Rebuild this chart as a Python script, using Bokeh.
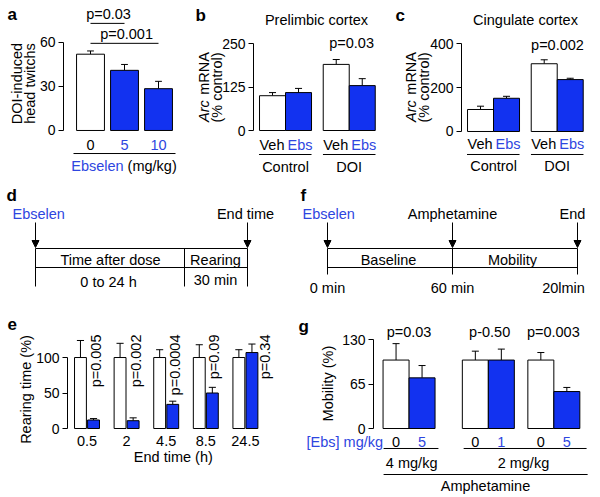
import math
from bokeh.plotting import figure
from bokeh.models import LinearAxis, Range1d, Arrow, NormalHead, FixedTicker, ColumnDataSource
from bokeh.layouts import column, row
from bokeh.core.properties import value
from bokeh.embed import file_html
from bokeh.resources import INLINE

FONT = "Liberation Sans"
FS = "14.5px"
BLUE = "#1232F0"
TBLUE = "#2E46E0"

# ---------------- data ----------------
# panel a: DOI-induced head twitches vs ebselen dose
a_doses = ["0", "5", "10"]
a_mean = [52, 41, 28.5]
a_err = [2.2, 4, 5]

# panels b / c: Arc mRNA (% control)
bc_treat = ["Veh", "Ebs", "Veh", "Ebs"]
bc_groups = ["Control", "DOI"]
b_mean = [100, 109, 190, 129]
b_err = [9, 12, 14, 20]
c_mean = [100, 151, 308, 236]
c_err = [15, 9, 18, 6]

# panel e: rearing time (%) vs end time
e_times = ["0.5", "2", "4.5", "8.5", "24.5"]
e_veh = [100, 100, 100, 100, 100]
e_veh_err = [24, 20, 11, 18, 11]
e_ebs = [12, 11, 34, 50, 107]
e_ebs_err = [2, 4, 4.5, 8, 12]
e_p = ["p=0.005", "p=0.002", "p=0.0004", "p=0.09", "p=0.34"]

# panel g: mobility (%)
g_dose = ["0", "5", "0", "1", "0", "5"]
g_mean = [100, 74, 100, 100, 100, 54]
g_err = [24, 18, 13, 16, 11, 6]
g_amph = ["4 mg/kg", "2 mg/kg"]
g_p = ["p=0.03", "p-0.50", "p=0.003"]


def make_fig(w, h, xr, yr):
    p = figure(width=w, height=h, x_range=Range1d(*xr), y_range=Range1d(*yr),
               x_axis_location=None, y_axis_location=None, toolbar_location=None,
               output_backend="svg", min_border_left=0, min_border_right=0,
               min_border_top=0, min_border_bottom=0, outline_line_color=None,
               background_fill_color="white", border_fill_color="white")
    p.grid.visible = False
    return p


def add_yaxis(p, loc, ticks, bounds):
    ax = LinearAxis(fixed_location=loc, ticker=FixedTicker(ticks=ticks), bounds=bounds,
                    major_tick_out=5, major_tick_in=0, minor_tick_out=0, minor_tick_in=0,
                    major_label_text_font=FONT, major_label_text_font_size="14px",
                    major_label_text_color="black", axis_line_color="black",
                    major_tick_line_color="black", major_label_standoff=3)
    p.add_layout(ax, "left")


def bars(p, x, top, err, colors, width, cap):
    src = ColumnDataSource(dict(x=x, top=top,
                                et=[t + e for t, e in zip(top, err)],
                                cl=[v - cap / 2 for v in x], cr=[v + cap / 2 for v in x],
                                color=colors))
    p.segment(x0="x", y0="top", x1="x", y1="et", source=src, line_color="black", line_width=1)
    p.segment(x0="cl", y0="et", x1="cr", y1="et", source=src, line_color="black", line_width=1)
    p.vbar(x="x", top="top", bottom=0, width=width, fill_color="color",
           line_color="black", line_width=1, source=src)


def txt(p, x, y, s, color="black", align="center", baseline="middle", size=FS,
        style="normal", angle=0.0):
    p.text(x=[x], y=[y], text=[s], text_color=color, text_align=align,
           text_baseline=baseline, text_font=value(FONT), text_font_size=value(size),
           text_font_style=value(style), angle=angle)


def letter(p, x, y, s):
    txt(p, x, y, s, align="left", size="17px", style="bold")


def hline(p, x0, x1, y, color="black"):
    p.segment(x0=[x0], y0=[y], x1=[x1], y1=[y], line_color=color, line_width=1)


def vline(p, x, y0, y1):
    p.segment(x0=[x], y0=[y0], x1=[x], y1=[y1], line_color="black", line_width=1)


R90 = math.pi / 2

# ---------------- panel a ----------------
pa = make_fig(190, 185, (-2.647, 2.941), (-37.5, 88.6))
add_yaxis(pa, -0.794, [0, 30, 60], (0, 60))
ax_ = list(range(len(a_doses)))
bars(pa, ax_, a_mean, a_err, ["white", BLUE, BLUE], 0.82, 0.2)
letter(pa, -2.44, 79.1, "a")
txt(pa, 0.53, 79.4, "p=0.03")
hline(pa, 0, 1, 73)
txt(pa, 1.06, 65.8, "p=0.001")
hline(pa, 0, 2, 59.4)
for i, d in enumerate(a_doses):
    txt(pa, i, -10.2, d, color="black" if i == 0 else TBLUE)
hline(pa, -0.5, 2.5, -15.7)
txt(pa, 0.974, -24.5, "Ebselen", color=TBLUE, align="right")
txt(pa, 1.09, -24.5, "(mg/kg)", align="left")
txt(pa, -2.17, 32, "DOI-induced", angle=R90)
txt(pa, -1.79, 32, "head twitchs", angle=R90)


# ---------------- panels b, c ----------------
def arc_panel(let, title, mean, err, ptxt, w, xr, yr, axloc, ticks, sc, y0px, xs):
    # sc: px per unit; y0px: pixel row of zero from the figure top
    p = make_fig(w, 185, xr, yr)
    add_yaxis(p, axloc, ticks, (0, ticks[-1]))
    xpos = [0, 1, 2.45, 3.45]
    bars(p, xpos, mean, err, ["white", BLUE, "white", BLUE], 1.0, 0.27)
    Y = lambda ref_y: (y0px - ref_y) / sc
    letter(p, xs["letter"], Y(xs["ly"]), let)
    txt(p, xs["title"], Y(19), title)
    txt(p, xs["p"], Y(xs["py"]), ptxt)
    for xv, t in zip(xpos, bc_treat):
        if t == "Veh":
            txt(p, xv - 0.02, Y(144), t)
        else:
            txt(p, xv + 0.06, Y(144), t, color=TBLUE)
    hline(p, -0.52, 1.5, Y(154))
    hline(p, 1.94, 3.96, Y(154))
    txt(p, 0.5, Y(166), bc_groups[0])
    txt(p, 2.95, Y(166), bc_groups[1])
    txt(p, xs["l1"], Y(121.5), "Arc", align="left", style="italic", angle=R90)
    txt(p, xs["l1"], Y(51.5), "mRNA", align="right", angle=R90)
    txt(p, xs["l2"], Y(87), "(% control)", angle=R90)
    return p


pb = arc_panel("b", "Prelimbic cortex", b_mean, b_err, "p=0.03", 198,
               (-3.154, 4.46), (-158.0, 373.6), -0.73, [0, 125, 250], 0.348, 130,
               dict(letter=-2.96, ly=15, title=1.69, p=3.04, py=42.5, l1=-2.64, l2=-2.15))
pc = arc_panel("c", "Cingulate cortex", c_mean, c_err, "p=0.002", 212,
               (-3.54, 4.615), (-245.5, 595.5), -0.73, [0, 200, 400], 0.22, 131,
               dict(letter=-3.27, ly=15, title=1.73, p=2.96, py=44, l1=-2.69, l2=-2.18))

# ---------------- panel d (schematic) ----------------
head = lambda: NormalHead(size=7, fill_color="black", line_color="black", line_width=1)
pd = make_fig(296, 130, (0, 296), (130, 0))
letter(pd, 6, 10, "d")
txt(pd, 12, 28, "Ebselen", color=TBLUE, align="left")
txt(pd, 245, 28, "End time")
for xv in (35, 247):
    pd.add_layout(Arrow(end=head(), x_start=xv, y_start=37, x_end=xv, y_end=62,
                        line_color="black", line_width=1))
hline(pd, 35, 247, 63)
hline(pd, 35, 247, 82)
for xv in (35, 184, 247):
    vline(pd, xv, 63, 101)
txt(pd, 110, 74, "Time after dose")
txt(pd, 215, 74, "Rearing")
txt(pd, 108, 96, "0 to 24 h")
txt(pd, 215, 94, "30 min")

# ---------------- panel f (schematic) ----------------
pf = make_fig(304, 130, (0, 304), (130, 0))
letter(pf, 4, 10, "f")
txt(pf, 6, 28, "Ebselen", color=TBLUE, align="left")
txt(pf, 156, 28, "Amphetamine")
txt(pf, 276, 28, "End")
for xv in (31, 156, 281):
    pf.add_layout(Arrow(end=head(), x_start=xv, y_start=37, x_end=xv, y_end=62,
                        line_color="black", line_width=1))
    vline(pf, xv, 63, 89)
hline(pf, 31, 281, 63)
hline(pf, 31, 281, 82)
txt(pf, 92, 74, "Baseline")
txt(pf, 216, 74, "Mobility")
txt(pf, 31, 102, "0 min")
txt(pf, 156, 102, "60 min")
txt(pf, 267, 102, "20lmin")

# ---------------- panel e ----------------
pe = make_fig(296, 182, (-2.184, 5.29), (-97.2, 159.2))
add_yaxis(pe, -0.49, [0, 50, 100], (0, 100))
ex = list(range(len(e_times)))
bars(pe, [v - 0.165 for v in ex], e_veh, e_veh_err, ["white"] * 5, 0.3, 0.18)
bars(pe, [v + 0.165 for v in ex], e_ebs, e_ebs_err, [BLUE] * 5, 0.3, 0.18)
p_off = [0.23, 0.24, 0.21, 0.20, 0.49]
for i, s in enumerate(e_p):
    txt(pe, i + p_off[i], 132.4, s, align="right", angle=R90)
for i, s in enumerate(e_times):
    txt(pe, i, -18.3, s)
txt(pe, 2.18, -40.8, "End time (h)")
txt(pe, -1.53, 55, "Rearing time (%)", angle=R90)
letter(pe, -2.01, 147.9, "e")

# ---------------- panel g ----------------
pg = make_fig(304, 182, (-3.83, 7.865), (-100.8, 165.1))
add_yaxis(pg, -0.865, [0, 65, 130], (0, 130))
gx = [0, 1, 3.05, 4.05, 5.57, 6.57]
bars(pg, gx, g_mean, g_err, ["white", BLUE] * 3, 1.0, 0.27)
for xv, s in zip([0.5, 3.6, 6.05], g_p):
    txt(pg, xv, 141.7, s)
letter(pg, -3.75, 149, "g")
txt(pg, -0.5, -19, "[Ebs] mg/kg", color=TBLUE, align="right")
for i, (xv, s) in enumerate(zip(gx, g_dose)):
    txt(pg, xv, -19, s, color="black" if i % 2 == 0 else TBLUE)
hline(pg, -0.48, 1.63, -29.2)
hline(pg, 2.6, 7.33, -29.2)
txt(pg, 0.6, -51.1, g_amph[0])
txt(pg, 4.9, -51.1, g_amph[1])
hline(pg, -0.48, 7.37, -67.2)
txt(pg, 3.44, -83.3, "Amphetamine")
txt(pg, -2.62, 65.7, "Mobility (%)", angle=R90)

layout = column(row(pa, pb, pc), row(pd, pf), row(pe, pg))
open("out.html", "w").write(file_html(layout, INLINE))
